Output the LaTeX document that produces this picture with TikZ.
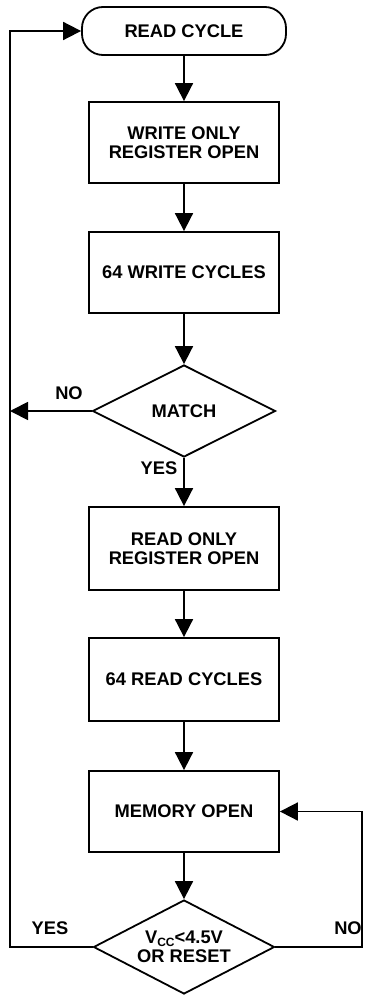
\documentclass[tikz,border=0pt]{standalone}
\usepackage{fontspec}
\setmainfont{Liberation Sans}
\usetikzlibrary{shapes.geometric,arrows.meta}
\begin{document}
\begin{tikzpicture}[x=1pt,y=-1pt,
  every node/.style={font=\fontsize{18.3}{19.5}\selectfont\bfseries, text=black},
  box/.style={draw, line width=1.8pt, minimum width=190pt, minimum height=81pt, inner sep=0pt, align=center},
  pill/.style={draw, line width=1.8pt, rounded corners=21pt, minimum width=204pt, minimum height=48pt, inner sep=0pt},
  dia/.style={draw, diamond, shape aspect=2, line width=1.8pt, inner sep=0pt, align=center},
  lbl/.style={inner sep=0pt},
  arr/.style={line width=1.8pt, -{Triangle[width=18pt,length=18pt]}},
  ln/.style={line width=1.8pt}
]
\useasboundingbox[fill=white] (0,0) rectangle (364,995);

\node[pill] (read) at (184,31) {READ CYCLE};
\node[box] (wo) at (184,142.5) {WRITE ONLY\\REGISTER OPEN};
\node[box] (wc) at (184,272.5) {64 WRITE CYCLES};
\node[dia, minimum width=183pt, minimum height=92pt] (match) at (184,411) {MATCH};
\node[box, minimum height=83pt] (ro) at (184,548.5) {READ ONLY\\REGISTER OPEN};
\node[box, minimum height=83pt] (rc) at (184,679.5) {64 READ CYCLES};
\node[box] (mem) at (184,811.5) {MEMORY OPEN};
\node[dia, minimum width=181pt, minimum height=94pt] (vcc) at (184,947) {V\raisebox{-0.35ex}{\fontsize{12}{12}\selectfont CC}<4.5V\\OR RESET};

\node[lbl] (no1) at (69,393) {NO};
\node[lbl] (yes1) at (159,468) {YES};
\node[lbl] (yes2) at (50,928) {YES};
\node[lbl] (no2) at (348,928) {NO};

\coordinate (lx) at (10,0);
\coordinate (rx) at (362,0);

\draw[arr] (read.south) -- (wo.north);
\draw[arr] (wo.south) -- (wc.north);
\draw[arr] (wc.south) -- (match.north);
\draw[arr] (match.south) -- (ro.north);
\draw[arr] (ro.south) -- (rc.north);
\draw[arr] (rc.south) -- (mem.north);
\draw[arr] (mem.south) -- (vcc.north);

\draw[arr] (match.west) -- (match.west -| lx);
\draw[arr] (vcc.west) -- (vcc.west -| lx) -- (read.west -| lx) -- (read.west);
\draw[arr] (vcc.east) -- (vcc.east -| rx) -- (mem.east -| rx) -- (mem.east);
\end{tikzpicture}
\end{document}
